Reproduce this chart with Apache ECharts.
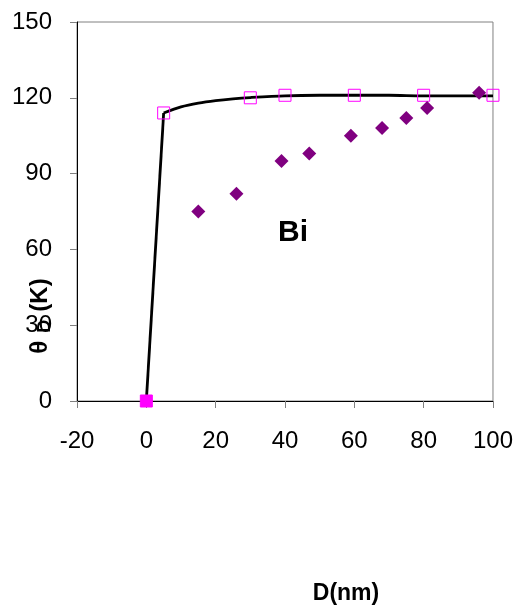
<!DOCTYPE html>
<html>
<head>
<meta charset="utf-8">
<script src="https://cdn.jsdelivr.net/npm/echarts@6/dist/echarts.min.js"></script>
<style>
  html, body { margin: 0; padding: 0; background: #fff; }
  #chart { width: 516px; height: 609px; }
</style>
</head>
<body>
<div id="chart"></div>
<script>
    'use strict'

    /* Data */
    var squaresX = [0, 5, 30, 40, 60, 80, 100];
    var squaresY = [0, 114, 120, 121, 121, 121, 121];

    var diamondsX = [15, 26, 39, 47, 59, 68, 75, 81, 96];
    var diamondsY = [75, 82, 95, 98, 105, 108, 112, 116, 122];

    // steep straight rise, then the fitted curve
    var riseX = [0, 5];
    var riseY = [0, 114];
    var fitX = [5, 10, 15, 20, 25, 30, 40, 50, 60, 70, 80, 90, 100];
    var fitY = [114, 116.4, 117.9, 118.9, 119.6, 120.1, 120.8, 121, 121, 121, 120.8, 120.8, 120.8];

    var xTicks = [-20, 0, 20, 40, 60, 80, 100];
    var yTicks = [0, 30, 60, 90, 120, 150];

    function pairs(xs, ys) {
        return xs.map(function (x, i) { return [x, ys[i]]; });
    }

    var chart = echarts.init(document.getElementById('chart'));

    var font = 'Liberation Sans, Arial, sans-serif';
    var axisLabel = { fontSize: 24, color: '#000', fontFamily: font };
    var lineStyle = { color: '#000', width: 2.8 };

    // the point at the origin is drawn filled
    var squareData = pairs(squaresX, squaresY).map(function (p, i) {
        return i === 0 ? { value: p, itemStyle: { color: '#ff00ff' } } : p;
    });

    chart.setOption({
        animation: false,
        grid: {
            left: 77,
            right: 23,
            top: 22,
            bottom: 208,
            show: true,
            borderColor: '#808080',
            borderWidth: 1
        },
        xAxis: {
            type: 'value',
            min: xTicks[0],
            max: xTicks[xTicks.length - 1],
            interval: 20,
            axisLine: { onZero: false, lineStyle: { color: '#000', width: 1 } },
            axisTick: { length: 7, lineStyle: { color: '#808080', width: 1 } },
            axisLabel: Object.assign({ margin: 28 }, axisLabel),
            splitLine: { show: false }
        },
        yAxis: {
            type: 'value',
            min: yTicks[0],
            max: yTicks[yTicks.length - 1],
            interval: 30,
            axisLine: { show: true, onZero: false, lineStyle: { color: '#000', width: 1 } },
            axisTick: { show: true, length: 7, lineStyle: { color: '#808080', width: 1 } },
            axisLabel: Object.assign({ margin: 25 }, axisLabel),
            splitLine: { show: false }
        },
        graphic: [
            {
                type: 'text',
                x: 293, y: 233,
                style: { text: 'Bi', font: 'bold 30px ' + font, fill: '#000', align: 'center', verticalAlign: 'middle' }
            },
            {
                type: 'text',
                x: 346, y: 594,
                style: { text: 'D(nm)', font: 'bold 23px ' + font, fill: '#000', align: 'center', verticalAlign: 'middle' }
            },
            {
                type: 'text',
                x: 40, y: 316,
                rotation: Math.PI / 2,
                style: {
                    text: '{a|θ}{s|D}{a|(K)}',
                    align: 'center',
                    verticalAlign: 'middle',
                    rich: {
                        a: { font: 'bold 24px ' + font, fill: '#000' },
                        s: { font: 'bold 18px ' + font, fill: '#000', padding: [10, 8, 0, 8] }
                    }
                }
            }
        ],
        series: [
            {
                name: 'rise',
                type: 'line',
                symbol: 'none',
                lineStyle: lineStyle,
                data: pairs(riseX, riseY),
                z: 3
            },
            {
                name: 'fit',
                type: 'line',
                smooth: 0.3,
                symbol: 'none',
                lineStyle: lineStyle,
                data: pairs(fitX, fitY),
                z: 3
            },
            {
                name: 'squares',
                type: 'scatter',
                symbol: 'rect',
                symbolSize: 12,
                itemStyle: { color: 'rgba(255,255,255,0)', borderColor: '#ff00ff', borderWidth: 1, opacity: 1 },
                data: squareData,
                z: 4
            },
            {
                name: 'diamonds',
                type: 'scatter',
                symbol: 'diamond',
                symbolSize: 14,
                itemStyle: { color: '#800080', opacity: 1 },
                data: pairs(diamondsX, diamondsY),
                z: 5
            }
        ]
    });
</script>
</body>
</html>
